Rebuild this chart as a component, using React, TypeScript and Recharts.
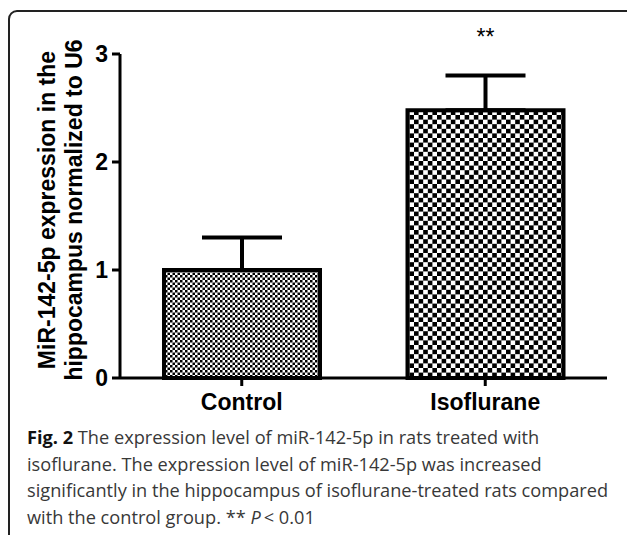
import React from "react";
import { BarChart, Bar, XAxis, YAxis, Cell, ErrorBar, LabelList } from "recharts";

// values
const groups = ["Control", "Isoflurane"];
const means = [1.0, 2.48];
const sems = [0.3, 0.32];
const marks = ["", "**"];
const yTicks = [0, 1, 2, 3];
const fills = ["url(#checkFine)", "url(#checkCoarse)"];

const data = groups.map((g, i) => ({
  name: g,
  value: means[i],
  err: [0, sems[i]],
  mark: marks[i],
}));

const ARIAL = "'Liberation Sans', Arial, sans-serif";
const TICK = { fill: "#000", fontSize: 23, fontWeight: 700, fontFamily: ARIAL };
const MARGIN = { top: 54, right: 20, left: 0, bottom: 12 };

function YLabel({ viewBox }: any) {
  const cy = viewBox.y + viewBox.height / 2 - 6;
  return (
    <g>
      <text
        transform={`translate(55, ${cy}) rotate(-90)`}
        textAnchor="middle"
        fontFamily={ARIAL}
        fontWeight={700}
        fontSize={23}
        fill="#000"
      >
        MiR-142-5p expression in the
      </text>
      <text
        transform={`translate(82, ${cy}) rotate(-90)`}
        textAnchor="middle"
        fontFamily={ARIAL}
        fontWeight={700}
        fontSize={23}
        fill="#000"
      >
        hippocampus normalized to U6
      </text>
    </g>
  );
}

function StarLabel({ x, width, value }: any) {
  if (!value) return null;
  return (
    <text
      x={x + width / 2}
      y={MARGIN.top - 9}
      textAnchor="middle"
      fontFamily={ARIAL}
      fontSize={23}
      fill="#000"
    >
      {value}
    </text>
  );
}

export default function App() {
  return (
    <div
      style={{
        position: "absolute",
        left: 0,
        top: 0,
        width: 627,
        height: 535,
        overflow: "hidden",
        background: "#fff",
      }}
    >
      <div
        style={{
          position: "absolute",
          left: 8,
          top: 10,
          width: 660,
          height: 600,
          border: "2px solid #222",
          borderRadius: 9,
        }}
      />
      <div style={{ position: "absolute", left: 0, top: 0 }}>
        <BarChart width={627} height={420} data={data} margin={MARGIN} barSize={156}>
          <defs>
            <pattern id="checkFine" width={5} height={5} patternUnits="userSpaceOnUse">
              <rect width={5} height={5} fill="#fff" />
              <rect width={2.5} height={2.5} fill="#000" />
              <rect x={2.5} y={2.5} width={2.5} height={2.5} fill="#000" />
            </pattern>
            <pattern id="checkCoarse" width={9.2} height={9.2} patternUnits="userSpaceOnUse">
              <rect width={9.2} height={9.2} fill="#fff" />
              <rect width={4.6} height={4.6} fill="#000" />
              <rect x={4.6} y={4.6} width={4.6} height={4.6} fill="#000" />
            </pattern>
          </defs>
          <XAxis
            dataKey="name"
            height={30}
            tick={TICK}
            tickSize={8}
            tickMargin={8}
            axisLine={{ stroke: "#000", strokeWidth: 3 }}
            tickLine={{ stroke: "#000", strokeWidth: 3 }}
          />
          <YAxis
            domain={[0, 3]}
            ticks={yTicks}
            width={120}
            tick={TICK}
            tickSize={8}
            tickMargin={4}
            axisLine={{ stroke: "#000", strokeWidth: 3 }}
            tickLine={{ stroke: "#000", strokeWidth: 3 }}
            label={{ content: <YLabel /> } as any}
          />
          <Bar dataKey="value" stroke="#000" strokeWidth={4} isAnimationActive={false}>
            {data.map((d, i) => (
              <Cell key={d.name} fill={fills[i]} />
            ))}
            <ErrorBar dataKey="err" width={40} stroke="#000" strokeWidth={4} isAnimationActive={false} />
            <LabelList dataKey="mark" content={<StarLabel />} />
          </Bar>
        </BarChart>
      </div>
      <div
        style={{
          position: "absolute",
          left: 27,
          top: 424,
          fontFamily: "'Open Sans', sans-serif",
          fontSize: 18.2,
          lineHeight: "26.5px",
          color: "#383838",
          whiteSpace: "nowrap",
        }}
      >
        <b style={{ color: "#111" }}>Fig. 2</b> The expression level of miR-142-5p in rats treated with
        <br />
        isoflurane. The expression level of miR-142-5p was increased
        <br />
        significantly in the hippocampus of isoflurane-treated rats compared
        <br />
        with the control group. ** <i>P</i>&thinsp;&lt; 0.01
      </div>
    </div>
  );
}
